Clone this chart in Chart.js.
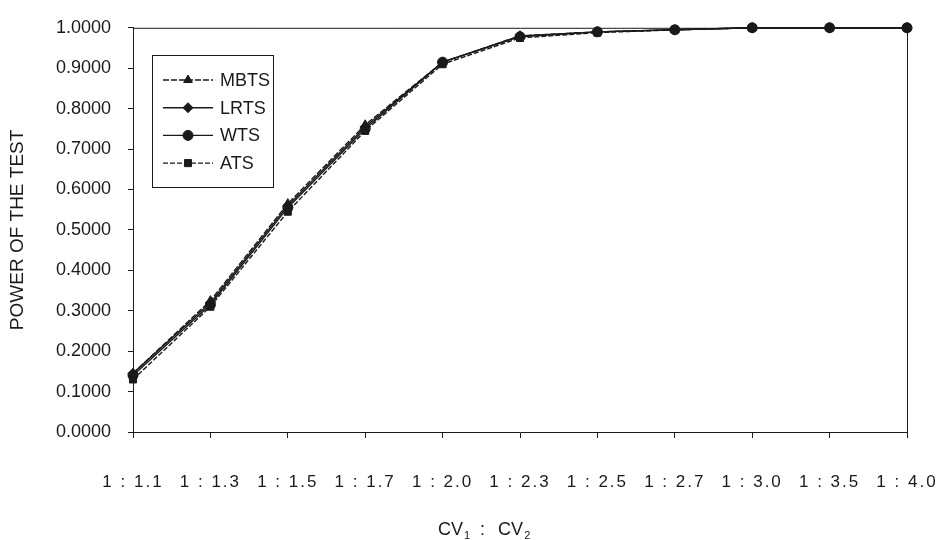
<!DOCTYPE html>
<html>
<head>
<meta charset="utf-8">
<script src="https://cdn.jsdelivr.net/npm/chart.js@4.4.1/dist/chart.umd.min.js"></script>
<style>
    html, body { margin: 0; padding: 0; background: #fff; }
    #wrap { width: 943px; height: 540px; position: relative; }
</style>
</head>
<body>
<div id="wrap"><canvas id="powerChart" width="943" height="540"></canvas></div>
<script>
// CV1 : CV2 ratios on the x axis
var ratios = ["1 : 1.1", "1 : 1.3", "1 : 1.5", "1 : 1.7", "1 : 2.0", "1 : 2.3",
    "1 : 2.5", "1 : 2.7", "1 : 3.0", "1 : 3.5", "1 : 4.0"];

// power of each test
var mbts = [0.145, 0.325, 0.565, 0.760, 0.915, 0.980, 0.990, 0.995, 1.000, 1.000, 1.000];
var lrts = [0.145, 0.320, 0.560, 0.755, 0.915, 0.980, 0.990, 0.995, 1.000, 1.000, 1.000];
var wts  = [0.140, 0.315, 0.555, 0.750, 0.915, 0.978, 0.990, 0.995, 1.000, 1.000, 1.000];
var ats  = [0.130, 0.310, 0.545, 0.745, 0.910, 0.975, 0.988, 0.995, 1.000, 1.000, 1.000];

var ink = '#1a1a1a';
var fontFamily = '"Liberation Sans", Arial, sans-serif';

function series(label, values, style, dash) {
    return {
        label: label,
        data: values,
        borderColor: ink,
        backgroundColor: ink,
        borderWidth: 1.4,
        borderDash: dash,
        pointStyle: style,
        pointRadius: 5,
        pointBorderWidth: 1,
        pointBorderColor: ink,
        pointBackgroundColor: ink,
        tension: 0,
        clip: false
    };
}

// frame, x labels, axis title and the boxed legend inside the plot
var extras = {
    id: 'extras',
    afterDraw: function (chart) {
        var ctx = chart.ctx;
        var area = chart.chartArea;
        var xs = chart.scales.x;

        ctx.save();
        ctx.strokeStyle = ink;
        ctx.lineWidth = 1;
        ctx.beginPath();
        ctx.moveTo(area.left, area.top + 0.5);
        ctx.lineTo(area.right + 0.5, area.top + 0.5);
        ctx.lineTo(area.right + 0.5, area.bottom);
        ctx.stroke();

        // category labels
        ctx.fillStyle = ink;
        ctx.font = '17px ' + fontFamily;
        ctx.letterSpacing = '2px';
        ctx.textAlign = 'center';
        ctx.textBaseline = 'alphabetic';
        ratios.forEach(function (r, i) {
            ctx.fillText(r, xs.getPixelForValue(i), 487);
        });
        ctx.letterSpacing = '0px';

        // CV1 : CV2
        ctx.textAlign = 'left';
        var x = 438, base = 535;
        ctx.font = '18px ' + fontFamily;
        ctx.fillText('CV', x, base);
        x += ctx.measureText('CV').width + 1;
        ctx.font = '11px ' + fontFamily;
        ctx.fillText('1', x, base + 4);
        x += ctx.measureText('1').width + 10;
        ctx.font = '18px ' + fontFamily;
        ctx.fillText(':', x, base);
        x += ctx.measureText(':').width + 13;
        ctx.fillText('CV', x, base);
        x += ctx.measureText('CV').width + 1;
        ctx.font = '11px ' + fontFamily;
        ctx.fillText('2', x, base + 4);

        // legend
        var box = {left: 152, top: 55, right: 273, bottom: 187};
        ctx.fillStyle = '#fff';
        ctx.fillRect(box.left, box.top, box.right - box.left, box.bottom - box.top);
        ctx.strokeStyle = ink;
        ctx.strokeRect(box.left + 0.5, box.top + 0.5, box.right - box.left, box.bottom - box.top);
        ctx.font = '18px ' + fontFamily;
        ctx.textBaseline = 'middle';
        chart.data.datasets.forEach(function (ds, i) {
            var y = 80 + i * 27.7;
            ctx.strokeStyle = ink;
            ctx.lineWidth = ds.borderWidth;
            ctx.setLineDash(ds.borderDash || []);
            ctx.beginPath();
            ctx.moveTo(163, y);
            ctx.lineTo(213, y);
            ctx.stroke();
            ctx.setLineDash([]);
            ctx.fillStyle = ink;
            ctx.lineWidth = 1;
            Chart.helpers.drawPoint(ctx, {pointStyle: ds.pointStyle, radius: 5, rotation: 0, borderWidth: 1}, 188, y);
            ctx.fillStyle = ink;
            ctx.fillText(ds.label, 220, y + 1);
        });
        ctx.restore();
    }
};

var ctx = document.getElementById('powerChart').getContext('2d');

var powerChart = new Chart(ctx, {
    type: 'line',
    data: {
        labels: ratios,
        datasets: [
            series('MBTS', mbts, 'triangle', [6, 2]),
            series('LRTS', lrts, 'rectRot', []),
            series('WTS', wts, 'circle', []),
            series('ATS', ats, 'rect', [5, 2])
        ]
    },
    options: {
        responsive: false,
        animation: false,
        layout: {padding: {top: 24, right: 36, left: 0, bottom: 0}},
        plugins: {
            legend: {display: false},
            tooltip: {enabled: false}
        },
        scales: {
            x: {
                type: 'category',
                offset: false,
                afterFit: function (scale) { scale.height = 108; },
                grid: {drawOnChartArea: false, color: ink, tickLength: 6, tickWidth: 1},
                border: {display: true, color: ink, width: 1},
                ticks: {display: false}
            },
            y: {
                min: 0,
                max: 1,
                afterFit: function (scale) { scale.width = 133; },
                grid: {drawOnChartArea: false, color: ink, tickLength: 5, tickWidth: 1},
                border: {display: true, color: ink, width: 1},
                ticks: {
                    stepSize: 0.1,
                    padding: 17,
                    color: ink,
                    font: {family: fontFamily, size: 18},
                    callback: function (v) { return v.toFixed(4); }
                },
                title: {
                    display: true,
                    text: 'POWER OF THE TEST',
                    color: ink,
                    padding: {top: 6, bottom: 0},
                    font: {family: fontFamily, size: 19}
                }
            }
        }
    },
    plugins: [extras]
});
</script>
</body>
</html>
